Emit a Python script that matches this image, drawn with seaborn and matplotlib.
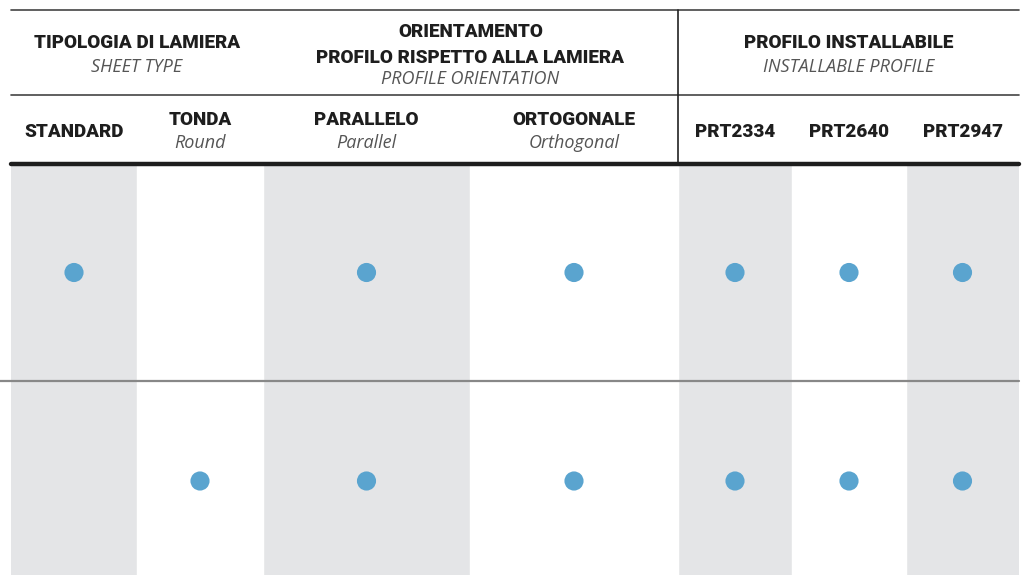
import matplotlib
matplotlib.use("Agg")
import matplotlib.pyplot as plt
import numpy as np
import pandas as pd
import seaborn as sns

sns.set_theme(style="white")
plt.rcParams['font.family'] = ['Roboto', 'DejaVu Sans']

# table content
groups = ["TIPOLOGIA DI LAMIERA", "ORIENTAMENTO\nPROFILO RISPETTO ALLA LAMIERA", "PROFILO INSTALLABILE"]
group_subs = ["SHEET TYPE", "PROFILE ORIENTATION", "INSTALLABLE PROFILE"]
group_span = [(0, 2), (2, 4), (4, 7)]
columns = ["STANDARD", "TONDA", "PARALLELO", "ORTOGONALE", "PRT2334", "PRT2640", "PRT2947"]
column_subs = ["", "Round", "Parallel", "Orthogonal", "", "", ""]
row_1 = [1, 0, 1, 1, 1, 1, 1]
row_2 = [0, 1, 1, 1, 1, 1, 1]

# layout (pixel grid of the page)
W, H = 1027, 575
col_edges = [11, 137, 263, 470, 678, 792, 906, 1019]
row_edges = [164, 381, 581]
col_mid = [(a + b) / 2 for a, b in zip(col_edges[:-1], col_edges[1:])]
row_mid = [(a + b) / 2 for a, b in zip(row_edges[:-1], row_edges[1:])]

GREY = "#e4e5e7"
DOT = "#5aa4cf"
DARK = "#1e1e1e"
MUTED = "#555555"
BOLD = dict(ha="center", va="baseline", fontsize=13.6, fontweight="heavy", color=DARK)
ITAL = dict(ha="center", va="baseline", fontsize=13, style="italic", color=MUTED,
            family=["Open Sans", "DejaVu Sans"])

recs = []
for r, vals in enumerate([row_1, row_2]):
    for c, v in enumerate(vals):
        if v:
            recs.append({"x": col_mid[c], "y": row_mid[r]})
df = pd.DataFrame(recs)

fig = plt.figure(figsize=(W / 100, H / 100), dpi=100)
ax = fig.add_axes([0, 0, 1, 1])

# shaded columns
for c in [0, 2, 4, 6]:
    ax.axvspan(col_edges[c], col_edges[c + 1], ymin=0, ymax=1 - row_edges[0] / H,
               color=GREY, lw=0, zorder=0)
for c in range(1, 7):
    ax.plot([col_edges[c]] * 2, [row_edges[0] + 2, H], color="white", lw=1, zorder=1)

# rules
ax.plot([11, 1019], [10, 10], color="#444444", lw=1.2)
ax.plot([11, 1019], [94.5, 94.5], color="#444444", lw=1.2)
ax.plot([678, 678], [10, 164], color="#222222", lw=1.2)
ax.plot([11, 1019], [164, 164], color=DARK, lw=3.2, zorder=3)
ax.plot([0, 1019], [381, 381], color="#888888", lw=1.6, zorder=3)

sns.scatterplot(data=df, x="x", y="y", s=190, color=DOT, edgecolor="none", ax=ax, zorder=4)
ax.set_xlim(0, W)
ax.set_ylim(H, 0)
ax.axis("off")

# group headers
for (a, b), g, s in zip(group_span, groups, group_subs):
    cx = (col_edges[a] + col_edges[b]) / 2
    if "\n" in g:
        l1, l2 = g.split("\n")
        ax.text(cx, 37, l1, **BOLD)
        ax.text(cx, 63, l2, **BOLD)
        ax.text(cx, 83.5, s, **ITAL)
    else:
        ax.text(cx, 47.5, g, **BOLD)
        ax.text(cx, 71.5, s, **ITAL)

# column headers
for c, (name, sub) in enumerate(zip(columns, column_subs)):
    if sub:
        ax.text(col_mid[c], 125, name, **BOLD)
        ax.text(col_mid[c], 148, sub, **ITAL)
    else:
        ax.text(col_mid[c], 137, name, **BOLD)

fig.savefig("out.png", dpi=100)
